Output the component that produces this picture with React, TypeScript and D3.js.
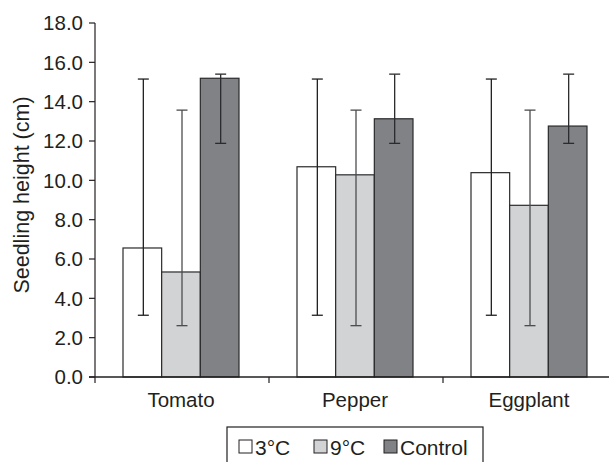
import React from "react";
import * as d3 from "d3";

const categories = ["Tomato", "Pepper", "Eggplant"];
const seriesNames = ["3°C", "9°C", "Control"];
const valuesCold3 = [6.56, 10.69, 10.39];
const valuesCold9 = [5.34, 10.28, 8.73];
const valuesControl = [15.19, 13.13, 12.76];
const errLow3 = [3.14, 3.14, 3.14];
const errHigh3 = [15.15, 15.15, 15.15];
const errLow9 = [2.61, 2.61, 2.61];
const errHigh9 = [13.57, 13.57, 13.57];
const errLowCtrl = [11.88, 11.88, 11.88];
const errHighCtrl = [15.4, 15.4, 15.4];
const yTicks = [0, 2, 4, 6, 8, 10, 12, 14, 16, 18];

const fills = ["#ffffff", "#d1d3d4", "#808285"];
const errColors = ["#231f20", "#4d4d4f", "#2b2b2d"];
const FONT = "'Liberation Sans', Arial, Helvetica, sans-serif";

export default function App() {
  const W = 609, H = 462;
  const x0 = d3.scaleBand<string>().domain(categories).range([95, 617]).padding(0);
  const x1 = d3.scaleBand<string>().domain(seriesNames).range([28, 144]).padding(0);
  const y = d3.scaleLinear().domain([0, 18]).range([377, 23]);
  const vals = [valuesCold3, valuesCold9, valuesControl];
  const lows = [errLow3, errLow9, errLowCtrl];
  const highs = [errHigh3, errHigh9, errHighCtrl];
  const fs = 20.5;

  return (
    <svg width={W} height={H} style={{ position: "absolute", left: 0, top: 0, background: "#fff" }} fontFamily={FONT}>
      <rect x={0} y={0} width={W} height={H} fill="#fff" />
      {/* bars */}
      {categories.map((c, ci) => (
        <g key={c} transform={`translate(${x0(c)},0)`}>
          {seriesNames.map((s, si) => {
            const v = vals[si][ci];
            return (
              <rect key={s} x={x1(s)!} y={y(v)} width={x1.bandwidth()} height={y(0) - y(v)}
                fill={fills[si]} stroke="#2a2a2c" strokeWidth={1.2} />
            );
          })}
        </g>
      ))}
      {/* error bars */}
      {categories.map((c, ci) => (
        <g key={c + "e"} transform={`translate(${x0(c)},0)`}>
          {seriesNames.map((s, si) => {
            const cx = x1(s)! + x1.bandwidth() / 2 + 1;
            const lo = y(lows[si][ci]);
            const hi = y(highs[si][ci]);
            return (
              <g key={s} stroke={errColors[si]} strokeWidth={1.3}>
                <line x1={cx} x2={cx} y1={lo} y2={hi} />
                <line x1={cx - 5.5} x2={cx + 5.5} y1={lo} y2={lo} />
                <line x1={cx - 5.5} x2={cx + 5.5} y1={hi} y2={hi} />
              </g>
            );
          })}
        </g>
      ))}
      {/* y axis */}
      <line x1={95} x2={95} y1={y(18)} y2={y(0) + 6} stroke="#231f20" strokeWidth={1.2} />
      {yTicks.map((t) => (
        <g key={t}>
          <line x1={89} x2={95} y1={y(t)} y2={y(t)} stroke="#231f20" strokeWidth={1.2} />
          <text x={83} y={y(t)} dy="0.36em" textAnchor="end" fontSize={fs} fill="#231f20">
            {t.toFixed(1)}
          </text>
        </g>
      ))}
      {/* x axis */}
      <line x1={89} x2={W} y1={y(0)} y2={y(0)} stroke="#231f20" strokeWidth={1.3} />
      {categories.map((c, ci) => (
        <g key={c + "x"}>
          {ci > 0 && (
            <line x1={x0(c)!} x2={x0(c)!} y1={y(0)} y2={y(0) + 6} stroke="#231f20" strokeWidth={1.2} />
          )}
          <text x={x0(c)! + 86} y={407} textAnchor="middle" fontSize={fs} fill="#231f20">
            {c}
          </text>
        </g>
      ))}
      {/* y title */}
      <text transform={`translate(29,195) rotate(-90)`} textAnchor="middle" fontSize={21.5} fill="#231f20">
        Seedling height (cm)
      </text>
      {/* legend */}
      <rect x={227} y={427} width={256} height={50} fill="#fff" stroke="#231f20" strokeWidth={1.2} />
      {seriesNames.map((s, si) => {
        const lx = [239, 314, 384][si];
        return (
          <g key={s + "l"}>
            <rect x={lx} y={440} width={13} height={13} fill={fills[si]} stroke="#231f20" strokeWidth={1} />
            <text x={lx + 16} y={455} fontSize={21} fill="#231f20">{s}</text>
          </g>
        );
      })}
    </svg>
  );
}
